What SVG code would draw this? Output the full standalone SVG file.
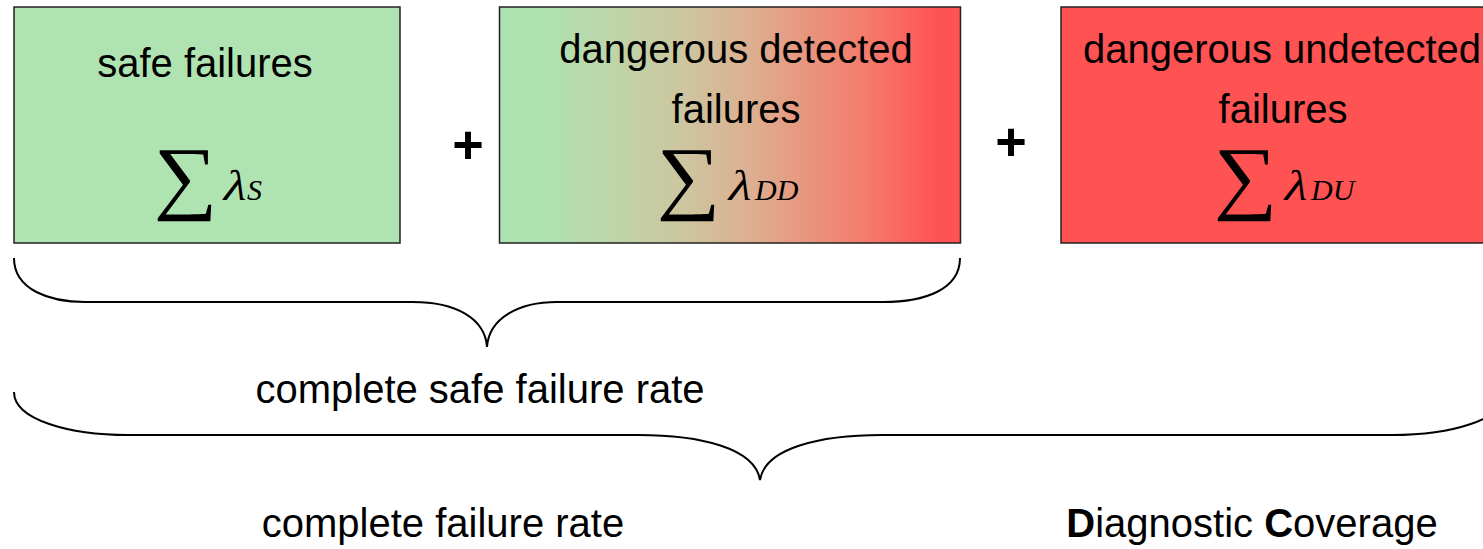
<svg xmlns="http://www.w3.org/2000/svg" width="1483" height="549" viewBox="0 0 1483 549">
  <defs>
    <linearGradient id="ddFill" x1="0" y1="0" x2="1" y2="0">
      <stop offset="0" stop-color="#AFE2B1"/>
      <stop offset="0.1" stop-color="#AFE2B1"/>
      <stop offset="0.4" stop-color="#CDC6A0"/>
      <stop offset="0.55" stop-color="#DDAE8F"/>
      <stop offset="0.8" stop-color="#F57A6C"/>
      <stop offset="0.95" stop-color="#FF5353"/>
      <stop offset="1" stop-color="#FF5252"/>
    </linearGradient>
    <style>
      .box { stroke: #222; stroke-width: 1.5; }
      .label { font-family: "Liberation Sans", Arial, sans-serif; font-size: 40px; fill: #000; text-anchor: middle; }
      .plus { font-family: "Liberation Sans", Arial, sans-serif; font-size: 54px; font-weight: bold; fill: #000; text-anchor: middle; }
      .sum { font-family: "Liberation Serif", "Times New Roman", serif; font-size: 82px; fill: #000; }
      .lam { font-family: "Liberation Serif", "Times New Roman", serif; font-size: 43px; fill: #000; }
      .sub { font-family: "Liberation Serif", "Times New Roman", serif; font-style: italic; font-size: 30px; fill: #000; }
      .brace { fill: none; stroke: #000; stroke-width: 2; }
    </style>
  </defs>

  <!-- safe failures -->
  <g id="safe">
    <rect class="box" x="14" y="7" width="386" height="236" fill="#B0E3B2"/>
    <text class="label" x="205" y="77">safe failures</text>
    <text class="sum" transform="translate(153.5,203.6) scale(1.09,1)">∑</text>
    <text class="lam" transform="translate(221,200) skewX(-14) scale(1.15,1)">λ</text>
    <text class="sub" x="247" y="200">S</text>
  </g>

  <!-- dangerous detected failures -->
  <g id="dangerous-detected">
    <rect class="box" x="499.5" y="7" width="461" height="236" fill="url(#ddFill)"/>
    <text class="label" x="736" y="63">dangerous detected</text>
    <text class="label" x="736" y="123">failures</text>
    <text class="sum" transform="translate(656.5,203.6) scale(1.09,1)">∑</text>
    <text class="lam" transform="translate(726,200) skewX(-14) scale(1.15,1)">λ</text>
    <text class="sub" x="755" y="200">DD</text>
  </g>

  <!-- dangerous undetected failures -->
  <g id="dangerous-undetected">
    <rect class="box" x="1061" y="7" width="461" height="236" fill="#FF5252"/>
    <text class="label" x="1282" y="63">dangerous undetected</text>
    <text class="label" x="1283" y="123">failures</text>
    <text class="sum" transform="translate(1213.5,203.6) scale(1.09,1)">∑</text>
    <text class="lam" transform="translate(1282,200) skewX(-14) scale(1.15,1)">λ</text>
    <text class="sub" x="1311" y="200">DU</text>
  </g>

  <!-- operators -->
  <g id="plus-1"><text class="plus" x="468" y="163">+</text></g>
  <g id="plus-2"><text class="plus" x="1011" y="160">+</text></g>

  <!-- braces -->
  <g id="connectors">
    <path class="brace" d="M14,258 C14,290 50,302 85,302 L413,302 C455,302 485,318 487,347 C489,318 519,302 557,302 L883,302 C924,302 960,290 960,258"/>
    <path class="brace" d="M14,392 C14,420 70,435 128,435 L638,435 C700,435 755,448 760,480 C765,448 820,435 882,435 L1392,435 C1450,435 1506,420 1506,392"/>
  </g>

  <!-- totals -->
  <g id="safe-rate"><text class="label" x="480" y="403">complete safe failure rate</text></g>
  <g id="total-rate"><text class="label" x="443" y="537">complete failure rate</text></g>
  <g id="dc"><text class="label" x="1252" y="537"><tspan font-weight="bold">D</tspan>iagnostic <tspan font-weight="bold">C</tspan>overage</text></g>
</svg>
